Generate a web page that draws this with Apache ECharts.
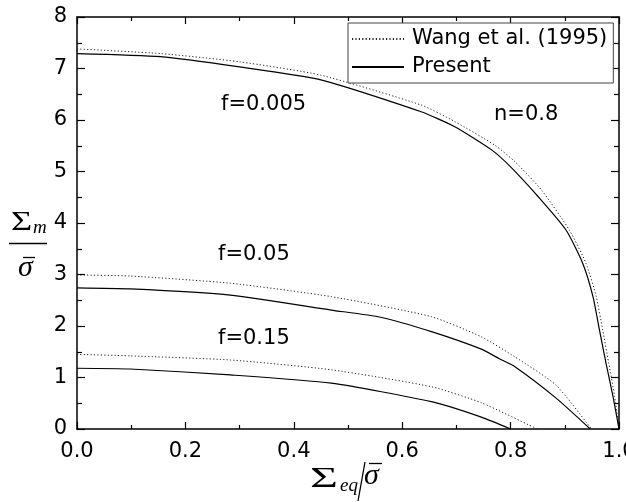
<!DOCTYPE html>
<html>
<head>
<meta charset="utf-8">
<script src="https://cdn.jsdelivr.net/npm/echarts@6/dist/echarts.min.js"></script>
<style>
  html, body { margin: 0; padding: 0; background: #fff; }
  #chart { width: 626px; height: 502px; }
</style>
</head>
<body>
<div id="chart"></div>
<script>
// values
const xTicks = [0.0, 0.2, 0.4, 0.6, 0.8, 1.0]
const yTicks = [0, 1, 2, 3, 4, 5, 6, 7, 8]

// f=0.005
const presentX1 = [0, 0.154, 0.30, 0.45, 0.635, 0.697, 0.765, 0.80, 0.851, 0.9025, 0.933, 0.952, 0.964, 0.976, 0.989, 1.0]
const presentY1 = [7.29, 7.23, 7.03, 6.78, 6.16, 5.87, 5.42, 5.09, 4.51, 3.86, 3.22, 2.57, 1.92, 1.28, 0.63, 0]
const wangX1 = [0, 0.154, 0.30, 0.45, 0.635, 0.697, 0.771, 0.808, 0.857, 0.9085, 0.939, 0.958, 0.970, 0.981, 0.992, 1.0]
const wangY1 = [7.38, 7.29, 7.13, 6.87, 6.29, 5.97, 5.51, 5.19, 4.64, 3.86, 3.22, 2.57, 1.92, 1.28, 0.63, 0]
// f=0.05
const presentX2 = [0, 0.098, 0.283, 0.469, 0.56, 0.654, 0.746, 0.78, 0.808, 0.884, 0.947]
const presentY2 = [2.74, 2.72, 2.60, 2.31, 2.17, 1.89, 1.55, 1.36, 1.21, 0.60, 0]
const wangX2 = [0, 0.098, 0.283, 0.469, 0.654, 0.746, 0.808, 0.884, 0.949]
const wangY2 = [2.99, 2.97, 2.83, 2.57, 2.18, 1.79, 1.40, 0.85, 0]
// f=0.15
const presentX3 = [0, 0.098, 0.283, 0.469, 0.654, 0.746, 0.80]
const presentY3 = [1.18, 1.165, 1.05, 0.89, 0.53, 0.23, 0]
const wangX3 = [0, 0.098, 0.283, 0.469, 0.654, 0.746, 0.849]
const wangY3 = [1.45, 1.42, 1.34, 1.15, 0.82, 0.51, 0]

const WANG = 'Wang et al. (1995)'
const PRESENT = 'Present'

const zip = (xs, ys) => xs.map((x, i) => [x, ys[i]])
const font = 'DejaVu Sans, Arial, sans-serif'
const serif = 'Liberation Serif, Times New Roman, serif'

const chart = echarts.init(document.getElementById('chart'))

const wangLine = (xs, ys) => ({
  name: WANG, type: 'line', symbol: 'none', smooth: 0.2, silent: true,
  itemStyle: { color: '#222' },
  lineStyle: { color: '#222', width: 1, type: [1.2, 2.2] },
  data: zip(xs, ys)
})
const presentLine = (xs, ys) => ({
  name: PRESENT, type: 'line', symbol: 'none', smooth: 0.2, silent: true,
  itemStyle: { color: '#000' },
  lineStyle: { color: '#000', width: 1.2, type: 'solid' },
  data: zip(xs, ys)
})

// fresh objects for every axis, ticks pointing into the plot
const xAxis = (pos, showLabel) => ({
  type: 'value', position: pos, min: xTicks[0], max: xTicks[xTicks.length - 1], interval: 0.2,
  splitLine: { show: false },
  axisLine: { show: true, onZero: false, lineStyle: { color: '#000', width: 1.5 } },
  axisTick: { show: true, inside: true, length: 7, lineStyle: { color: '#000', width: 1.2 } },
  minorTick: { show: true, splitNumber: 2, length: 4, lineStyle: { color: '#000', width: 1.2 } },
  axisLabel: { show: showLabel, margin: 12, fontFamily: font, fontSize: 21, color: '#000', formatter: v => v.toFixed(1) }
})
const yAxis = (pos, showLabel) => ({
  type: 'value', position: pos, min: yTicks[0], max: yTicks[yTicks.length - 1], interval: 1,
  splitLine: { show: false },
  axisLine: { show: true, onZero: false, lineStyle: { color: '#000', width: 1.5 } },
  axisTick: { show: true, inside: true, length: 8, lineStyle: { color: '#000', width: 1.2 } },
  minorTick: { show: true, splitNumber: 2, length: 5, lineStyle: { color: '#000', width: 1.2 } },
  axisLabel: { show: showLabel, margin: 10, fontFamily: font, fontSize: 21, color: '#000' }
})

const label = (text, x, y) => ({
  type: 'text', x, y,
  style: { text, font: '21px ' + font, fill: '#000' }
})

const option = {
  animation: false,
  backgroundColor: '#fff',
  grid: { left: 77, right: 7, top: 17, bottom: 73, containLabel: false, outerBoundsMode: 'none' },
  legend: {
    orient: 'vertical', left: 348, top: 23,
    padding: [4, 6, 4, 3], itemGap: 4,
    itemWidth: 52, itemHeight: 14,
    itemStyle: { opacity: 0 },
    borderColor: '#444', borderWidth: 1, backgroundColor: '#fff',
    textStyle: { fontFamily: font, fontSize: 21, color: '#000', lineHeight: 24, padding: [0, 0, 0, 3] },
    data: [WANG, PRESENT]
  },
  xAxis: [xAxis('bottom', true), xAxis('top', false)],
  yAxis: [yAxis('left', true), yAxis('right', false)],
  series: [
    wangLine(wangX1, wangY1), presentLine(presentX1, presentY1),
    wangLine(wangX2, wangY2), presentLine(presentX2, presentY2),
    wangLine(wangX3, wangY3), presentLine(presentX3, presentY3)
  ],
  graphic: [
    label('f=0.005', 221, 94),
    label('n=0.8', 494, 104),
    label('f=0.05', 218, 244),
    label('f=0.15', 218, 328),
    // y axis title: Σm over σ̄
    { type: 'text', x: 11, y: 209, scaleX: 1.3, style: { text: 'Σ', font: '28px ' + serif, fill: '#000' } },
    { type: 'text', x: 33, y: 218, style: { text: 'm', font: 'italic 19px ' + serif, fill: '#000' } },
    { type: 'line', shape: { x1: 9, y1: 243.5, x2: 47, y2: 243.5 }, style: { stroke: '#000', lineWidth: 1.3 } },
    { type: 'text', x: 18, y: 253, style: { text: 'σ', font: 'italic 30px ' + serif, fill: '#000' } },
    { type: 'line', shape: { x1: 23, y1: 257.5, x2: 35, y2: 257.5 }, style: { stroke: '#000', lineWidth: 1.3 } },
    // x axis title: Σeq / σ̄
    { type: 'text', x: 310, y: 464, scaleX: 1.6, style: { text: 'Σ', font: '30px ' + serif, fill: '#000' } },
    { type: 'text', x: 340, y: 476, style: { text: 'eq', font: 'italic 19px ' + serif, fill: '#000' } },
    { type: 'line', shape: { x1: 365, y1: 462, x2: 358, y2: 501 }, style: { stroke: '#000', lineWidth: 1.3 } },
    { type: 'text', x: 364, y: 461, style: { text: 'σ', font: 'italic 30px ' + serif, fill: '#000' } },
    { type: 'line', shape: { x1: 369, y1: 463.5, x2: 382, y2: 463.5 }, style: { stroke: '#000', lineWidth: 1.3 } }
  ]
}

chart.setOption(option)
</script>
</body>
</html>
